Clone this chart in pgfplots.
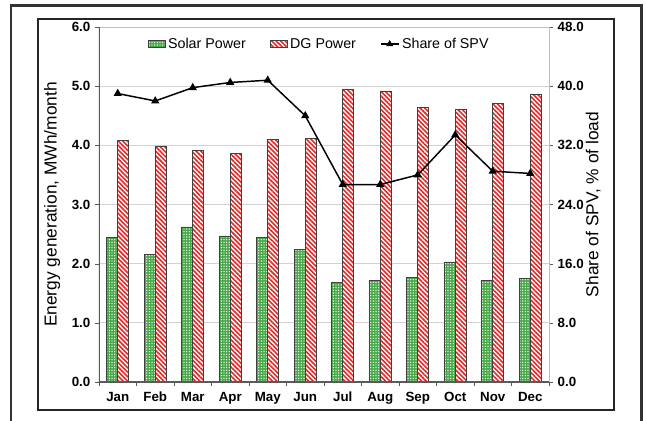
\documentclass[border=0pt]{standalone}
\usepackage{fontspec}
\setmainfont{Liberation Sans}
\usepackage{pgfplots}
\pgfplotsset{compat=1.18}
\usetikzlibrary{patterns.meta}
\definecolor{solargreen}{RGB}{72,168,72}
\definecolor{dgred}{RGB}{232,38,38}
\definecolor{axisdark}{RGB}{90,90,90}
\begin{document}
\begin{tikzpicture}
\useasboundingbox (-74.25pt,-29.25pt) rectangle (410.25pt,286.5pt);
% outer and inner frames
\draw[line width=2pt, black!80] (-66pt,-29.5pt) -- (-66pt,282.5pt) -- (406.9pt,282.5pt) -- (406.9pt,-29.5pt);
\draw[line width=1.5pt, black!85] (-45.75pt,-21pt) rectangle (386.25pt,272.25pt);

\begin{axis}[
  at={(0,0)}, anchor=south west,
  scale only axis, width=337.5pt, height=266.25pt,
  xmin=-0.5, xmax=11.5, ymin=0, ymax=6,
  ybar=0pt, bar width=8.25pt,
  xtick={0,1,2,3,4,5,6,7,8,9,10,11},
  xticklabels={Jan,Feb,Mar,Apr,May,Jun,Jul,Aug,Sep,Oct,Nov,Dec},
  minor xtick={-0.5,0.5,1.5,2.5,3.5,4.5,5.5,6.5,7.5,8.5,9.5,10.5,11.5},
  major x tick style={draw=none},
  minor x tick style={axisdark},
  y tick style={axisdark},
  tick align=outside,
  major tick length=3pt, minor tick length=3pt,
  xtick pos=bottom, ytick pos=left,
  ytick={0,1,2,3,4,5,6},
  ymajorgrids, major grid style={gray!35, line width=0.6pt},
  axis line style={gray!50},
  x tick label style={font=\fontsize{10}{12}\selectfont\bfseries, yshift=-1pt},
  y tick label style={font=\fontsize{10}{12}\selectfont\bfseries,
    /pgf/number format/fixed, /pgf/number format/fixed zerofill,
    /pgf/number format/precision=1, /pgf/number format/assume math mode=true},
  ylabel={Energy generation, MWh/month},
  ylabel style={at={(axis description cs:-0.104,0.5)}, anchor=center, font=\fontsize{13}{15}\selectfont},
  legend style={at={(axis description cs:0.49,0.952)}, anchor=center, draw=none, fill=none,
    font=\fontsize{10.7}{12}\selectfont, legend columns=3,
    /tikz/every even column/.append style={column sep=16pt}},
  legend image code/.code={\draw[#1] (0pt,-2.6pt) rectangle (12.75pt,2.6pt);},
]
\addplot[draw=black!75, line width=0.5pt, fill=solargreen,
  postaction={pattern={Dots[distance=2pt, radius=0.55pt]}, pattern color=white}]
  coordinates {(0,2.45) (1,2.16) (2,2.62) (3,2.47) (4,2.45) (5,2.24) (6,1.68) (7,1.71) (8,1.77) (9,2.03) (10,1.71) (11,1.75)};
\addlegendentry{Solar Power}
\addplot[draw=black!75, line width=0.5pt, fill=white,
  postaction={pattern={Lines[angle=-45, distance=2.4pt, line width=1.2pt]}, pattern color=dgred}]
  coordinates {(0,4.09) (1,3.99) (2,3.92) (3,3.87) (4,4.10) (5,4.12) (6,4.94) (7,4.92) (8,4.64) (9,4.61) (10,4.71) (11,4.87)};
\addlegendentry{DG Power}
\addlegendimage{legend image code/.code={
    \draw[black, line width=1.1pt] (0pt,0pt) -- (13.5pt,0pt);
    \fill[black] (6.75pt,2.6pt) -- (4.5pt,-1.3pt) -- (9pt,-1.3pt) -- cycle;}}
\addlegendentry{Share of SPV}
\draw[axisdark, line width=0.8pt] (rel axis cs:0,1) -- (rel axis cs:0,0) -- (rel axis cs:1,0);
\end{axis}

\begin{axis}[
  at={(0,0)}, anchor=south west,
  scale only axis, width=337.5pt, height=266.25pt,
  xmin=-0.5, xmax=11.5, ymin=0, ymax=48,
  axis x line=none, axis y line*=right,
  ytick={0,8,16,24,32,40,48},
  tick align=outside, major tick length=3pt,
  axis line style={gray!50}, y tick style={axisdark},
  y tick label style={font=\fontsize{10}{12}\selectfont\bfseries,
    /pgf/number format/fixed, /pgf/number format/fixed zerofill,
    /pgf/number format/precision=1, /pgf/number format/assume math mode=true},
  ylabel={Share of SPV, \% of load},
  ylabel style={at={(axis description cs:1.098,0.5)}, anchor=center, font=\fontsize{13}{15}\selectfont},
]
\addplot[black, line width=1.1pt, mark=triangle*, mark size=2.5pt, mark options={solid}]
  coordinates {(0,39.0) (1,38.0) (2,39.8) (3,40.5) (4,40.8) (5,36.0) (6,26.7) (7,26.7) (8,28.0) (9,33.4) (10,28.5) (11,28.2)};
\end{axis}
\end{tikzpicture}
\end{document}
